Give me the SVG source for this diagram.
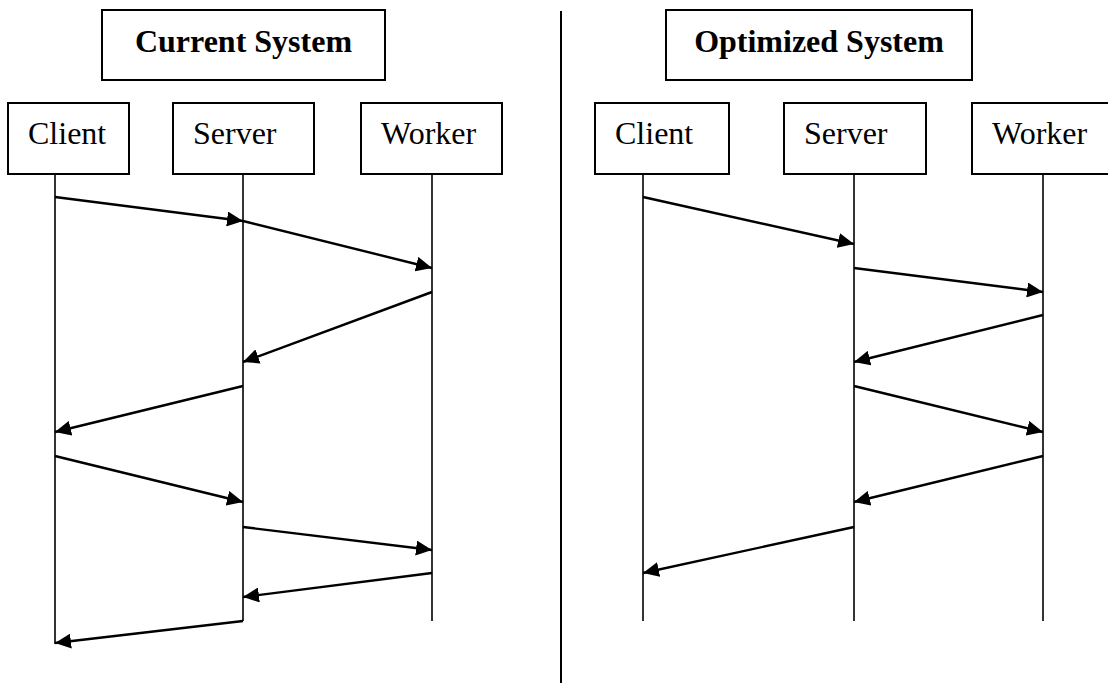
<svg xmlns="http://www.w3.org/2000/svg" width="1108" height="683" viewBox="0 0 1108 683">
  <style>
    .box { fill: #fff; stroke: #000; stroke-width: 2; }
    .title { font-family: "Liberation Serif", "Times New Roman", serif; font-size: 32px; font-weight: bold; fill: #000; text-anchor: middle; }
    .label { font-family: "Liberation Serif", "Times New Roman", serif; font-size: 32px; fill: #000; }
    .life { stroke: #000; stroke-width: 1.6; fill: none; }
    .msg { stroke: #000; stroke-width: 2.4; fill: none; marker-end: url(#head); }
  </style>
  <defs>
    <marker id="head" markerUnits="userSpaceOnUse" markerWidth="17" markerHeight="15" refX="16" refY="7.5" orient="auto">
      <path d="M0,0 L16,7.5 L0,15 Z" fill="#000"/>
    </marker>
  </defs>
  <rect width="1108" height="683" fill="#fff"/>

  <!-- divider between the two panels -->
  <line x1="561" y1="11" x2="561" y2="683" stroke="#000" stroke-width="2"/>

  <!-- left panel: current system -->
  <g id="title-current">
    <rect class="box" x="102" y="10" width="283" height="70"/>
    <text class="title" x="243.5" y="52">Current System</text>
  </g>
  <g id="current-client">
    <rect class="box" x="8" y="103" width="121" height="71"/>
    <text class="label" x="28" y="144">Client</text>
  </g>
  <g id="current-server">
    <rect class="box" x="173" y="103" width="141" height="71"/>
    <text class="label" x="193" y="144">Server</text>
  </g>
  <g id="current-worker">
    <rect class="box" x="361" y="103" width="141" height="71"/>
    <text class="label" x="381" y="144">Worker</text>
  </g>

  <!-- right panel: optimized system -->
  <g id="title-optimized">
    <rect class="box" x="666" y="10" width="306" height="70"/>
    <text class="title" x="819" y="52">Optimized System</text>
  </g>
  <g id="optimized-client">
    <rect class="box" x="595" y="103" width="134" height="71"/>
    <text class="label" x="615" y="144">Client</text>
  </g>
  <g id="optimized-server">
    <rect class="box" x="784" y="103" width="142" height="71"/>
    <text class="label" x="804" y="144">Server</text>
  </g>
  <g id="optimized-worker">
    <rect class="box" x="972" y="103" width="141" height="71"/>
    <text class="label" x="992" y="144">Worker</text>
  </g>

  <g id="connectors">
    <!-- lifelines, left -->
    <line class="life" x1="55" y1="174" x2="55" y2="644"/>
    <line class="life" x1="243" y1="174" x2="243" y2="621"/>
    <line class="life" x1="432" y1="174" x2="432" y2="621"/>
    <!-- lifelines, right -->
    <line class="life" x1="643" y1="174" x2="643" y2="621"/>
    <line class="life" x1="854" y1="174" x2="854" y2="621"/>
    <line class="life" x1="1043" y1="174" x2="1043" y2="621"/>

    <!-- messages, left -->
    <line class="msg" x1="55" y1="197" x2="243" y2="221"/>
    <line class="msg" x1="243" y1="221" x2="432" y2="268"/>
    <line class="msg" x1="432" y1="292" x2="243" y2="362"/>
    <line class="msg" x1="243" y1="386" x2="55" y2="432"/>
    <line class="msg" x1="55" y1="456" x2="243" y2="502"/>
    <line class="msg" x1="243" y1="527" x2="432" y2="550"/>
    <line class="msg" x1="432" y1="573" x2="243" y2="597"/>
    <line class="msg" x1="243" y1="621" x2="55" y2="643"/>

    <!-- messages, right -->
    <line class="msg" x1="643" y1="197" x2="854" y2="244"/>
    <line class="msg" x1="854" y1="268" x2="1043" y2="292"/>
    <line class="msg" x1="1043" y1="315" x2="854" y2="362"/>
    <line class="msg" x1="854" y1="386" x2="1043" y2="432"/>
    <line class="msg" x1="1043" y1="456" x2="854" y2="502"/>
    <line class="msg" x1="854" y1="527" x2="643" y2="573"/>
  </g>
</svg>
